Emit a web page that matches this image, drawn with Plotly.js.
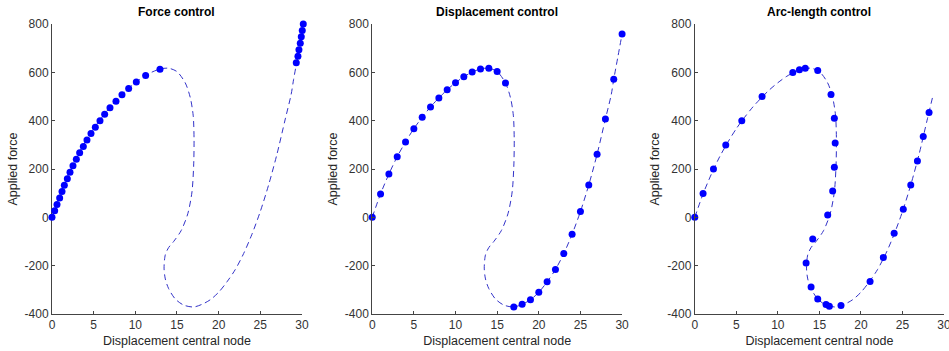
<!DOCTYPE html>
<html>
<head>
<meta charset="utf-8">
<script src="https://cdn.plot.ly/plotly-3.0.1.min.js"></script>
<style>html,body{margin:0;padding:0;background:#fff;}#chart{width:949px;height:351px;}</style>
</head>
<body>
<div id="chart"></div>
<script>
// Reference equilibrium path (dashed curve)
const pathX = [0, 1, 2, 3, 4, 5, 6, 7, 8, 9, 10, 11, 12, 13, 14, 15, 16, 16.6, 16.95, 17.05, 17.0, 16.8, 16.3, 15.5, 14.6, 14.0, 13.6, 13.45, 13.6, 14.0, 14.8, 15.8, 17.0, 18, 19, 20, 21, 22, 23, 24, 25, 26, 27, 28, 28.7, 29, 29.5, 30, 30.17];
const pathY = [0, 97, 179, 251, 312, 367, 414, 457, 494, 528, 557, 582, 601, 614, 617, 603, 556, 495, 420, 320, 211, 105, 15, -55, -100, -125, -155, -210, -255, -295, -338, -363, -371, -360, -341, -310, -267, -216, -150, -70, 24, 134, 261, 407, 508, 571, 665, 759, 800];
// number of path points drawn in each panel
const pathCount = [49, 48, 45];

// Force control solution points
const forceX = [0, 0.32, 0.6, 0.92, 1.2, 1.48, 1.84, 2.16, 2.52, 2.92, 3.32, 3.76, 4.2, 4.68, 5.2, 5.76, 6.32, 6.96, 7.68, 8.4, 9.2, 10.12, 11.24, 12.96, 29.32, 29.52, 29.64, 29.8, 29.92, 30.04, 30.16];
const forceY = [0, 27, 53, 80, 107, 133, 160, 187, 213, 240, 267, 293, 320, 347, 373, 400, 427, 453, 480, 507, 533, 560, 587, 613, 640, 667, 693, 720, 747, 773, 800];

// Displacement control solution points
const dispX = [0, 1, 2, 3, 4, 5, 6, 7, 8, 9, 10, 11, 12, 13, 14, 15, 16, 17, 18, 19, 20, 21, 22, 23, 24, 25, 26, 27, 28, 29, 30];
const dispY = [0, 97, 179, 251, 312, 367, 414, 457, 494, 528, 557, 582, 601, 614, 617, 603, 556, -371, -360, -341, -310, -267, -216, -150, -70, 24, 134, 261, 407, 571, 759];

// Arc-length control solution points
const arcX = [0, 1.0, 2.25, 3.73, 5.66, 8.1, 11.8, 12.6, 13.3, 14.8, 16.4, 16.8, 16.9, 16.8, 16.6, 16.0, 14.2, 13.4, 14.0, 14.8, 15.8, 16.2, 17.6, 21.1, 22.7, 24.0, 25.1, 26.0, 26.8, 27.5, 28.2];
const arcY = [0, 99, 200, 299, 400, 500, 599, 611, 617, 608, 508, 410, 308, 207, 109, 10, -90, -189, -288, -338, -361, -368, -365, -266, -166, -66, 33, 134, 233, 334, 434];

const panelTitles = ["Force control", "Displacement control", "Arc-length control"];
const xTitle = "Displacement central node";
const yTitle = "Applied force";
const xTicks = [0, 5, 10, 15, 20, 25, 30];
const yTicks = [-400, -200, 0, 200, 400, 600, 800];

const solX = [forceX, dispX, arcX];
const solY = [forceY, dispY, arcY];

const FONT = "Liberation Sans, Arial, Helvetica, sans-serif";
const domains = [[0, 0.2802], [0.3590, 0.6391], [0.7206, 1]];
// data axes: panel 1 uses hidden axes with identical scale but room past x=30
const dataX = ["x4", "x2", "x3"];
const dataY = ["y4", "y2", "y3"];

const traces = [];
// empty trace so that the visible panel-1 axes form a subplot
traces.push({x: [], y: [], xaxis: "x", yaxis: "y", mode: "markers", showlegend: false, hoverinfo: "skip"});
for (let i = 0; i < 3; i++) {
  traces.push({
    x: pathX.slice(0, pathCount[i]), y: pathY.slice(0, pathCount[i]),
    xaxis: dataX[i], yaxis: dataY[i],
    mode: "lines", line: {color: "rgb(50,50,200)", width: 1, dash: "6px,4px", shape: "spline", smoothing: 0.8},
    hoverinfo: "skip", showlegend: false, cliponaxis: false
  });
  traces.push({
    x: solX[i], y: solY[i],
    xaxis: dataX[i], yaxis: dataY[i],
    mode: "markers", marker: {color: "#0000ff", size: 7},
    showlegend: false, cliponaxis: false
  });
}

const layout = {
  width: 949, height: 351,
  margin: {l: 52, r: 5, t: 24, b: 37},
  paper_bgcolor: "#fff", plot_bgcolor: "rgba(0,0,0,0)",
  font: {family: FONT, size: 12, color: "#333"},
  showlegend: false,
  annotations: []
};
for (let i = 0; i < 3; i++) {
  const ax = i === 0 ? "" : String(i + 1);
  layout["xaxis" + ax] = {
    domain: domains[i], anchor: "y" + ax, range: [0, 30],
    tickvals: xTicks, ticktext: xTicks.map(String),
    ticks: "inside", ticklen: 3, tickcolor: "#444",
    showline: true, linecolor: "#444", linewidth: 1, mirror: false,
    showgrid: false, zeroline: false, ticklabeloverflow: "allow",
    tickfont: {family: FONT, size: 12, color: "#333"},
    title: {text: xTitle, font: {family: FONT, size: 12.5, color: "#262626"}, standoff: 4}
  };
  layout["yaxis" + ax] = {
    domain: [0, 1], anchor: "x" + ax, range: [-400, 800],
    tickvals: yTicks, ticktext: yTicks.map(String),
    ticks: "inside", ticklen: 3, tickcolor: "#444",
    showline: true, linecolor: "#444", linewidth: 1, mirror: false,
    showgrid: false, zeroline: false,
    tickfont: {family: FONT, size: 12, color: "#333"},
    title: {text: yTitle, font: {family: FONT, size: 12.5, color: "#262626"}, standoff: 4}
  };
  layout.annotations.push({
    text: "<b>" + panelTitles[i] + "</b>",
    xref: "paper", yref: "paper",
    x: (domains[i][0] + domains[i][1]) / 2, y: 1, xanchor: "center", yanchor: "bottom", yshift: 3,
    showarrow: false, font: {family: FONT, size: 12, color: "#000"}
  });
}
// hidden data axes for panel 1: same px-per-unit as xaxis/yaxis, x range extended to 31
layout.xaxis4 = {
  domain: [0, domains[0][1] * 31 / 30], range: [0, 31], anchor: "y4",
  visible: false, showgrid: false, zeroline: false
};
layout.yaxis4 = {
  domain: [0, 1], range: [-400, 800], anchor: "x4",
  visible: false, showgrid: false, zeroline: false
};
Plotly.newPlot("chart", traces, layout, {staticPlot: true, displayModeBar: false});
</script>
</body>
</html>
